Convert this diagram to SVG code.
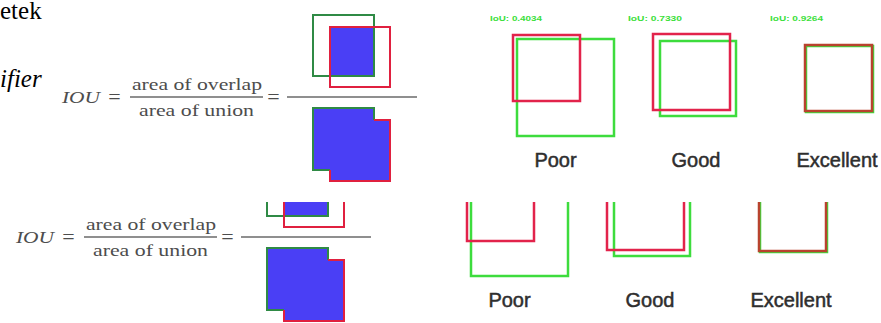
<svg xmlns="http://www.w3.org/2000/svg" width="881" height="323" viewBox="0 0 881 323">
<style>
.slide{font-family:"Liberation Serif","Times New Roman",serif;fill:#000;font-size:25px}
.math{font-family:"Liberation Serif","Times New Roman",serif;fill:#4d4d4d;font-size:17px}
.eq{font-family:"Liberation Serif","Times New Roman",serif;fill:#4d4d4d;font-size:22px;text-anchor:middle}
.mi{font-style:italic}
.fr{stroke:#6a6a6a;stroke-width:1.3}
.g1{fill:none;stroke:#2f8a45;stroke-width:2}
.r1{fill:none;stroke:#e0203f;stroke-width:2}
.blue{fill:#4a3ff5}
.gb{fill:none;stroke:#3ddc3d;stroke-width:2.5}
.rb{fill:none;stroke:#e2234b;stroke-width:2.5}
.eb{fill:none;stroke:#b8432e;stroke-width:2.5}
.lab{font-family:"Liberation Sans",Arial,sans-serif;font-size:20px;fill:#2e2e2e;stroke:#2e2e2e;stroke-width:0.5;text-anchor:middle}
.iou{font-family:"Liberation Sans",Arial,sans-serif;font-size:8px;fill:#3be03b;font-weight:bold}
</style>
<defs>
<clipPath id="cutL" clipPathUnits="userSpaceOnUse"><rect x="0" y="0" width="44" height="100"/></clipPath>
<clipPath id="cutB" clipPathUnits="userSpaceOnUse"><rect x="0" y="202" width="881" height="121"/></clipPath>
</defs>
<rect width="881" height="323" fill="#fff"/>

<g id="slide-text" clip-path="url(#cutL)">
<text class="slide" x="0" y="19">etek</text>
<text class="slide" x="0" y="87" font-style="italic">ifier</text>
</g>

<g id="formula-top">
<text class="math mi" x="62" y="103" textLength="38" lengthAdjust="spacingAndGlyphs">IOU</text>
<text class="eq" x="114.5" y="104">=</text>
<text class="math" x="132" y="90" textLength="130" lengthAdjust="spacingAndGlyphs">area of overlap</text>
<line class="fr" x1="130" y1="97" x2="263" y2="97"/>
<text class="math" x="139" y="116" textLength="115" lengthAdjust="spacingAndGlyphs">area of union</text>
<text class="eq" x="273.5" y="104">=</text>
<line class="fr" x1="287" y1="97" x2="417" y2="97"/>
<g id="overlap-top">
<rect class="blue" x="330" y="27" width="44" height="49"/>
<rect class="g1" x="313" y="15" width="61" height="61"/>
<rect class="r1" x="330" y="27" width="60" height="60"/>
</g>
<g id="union-top">
<polygon class="blue" points="313,108 374,108 374,120 390,120 390,181 330,181 330,170 313,170"/>
<polyline class="g1" points="330,170 313,170 313,108 374,108 374,120"/>
<polyline class="r1" points="374,120 390,120 390,181 330,181 330,170"/>
</g>
</g>

<g id="examples-top">
<text class="iou" x="490" y="21" textLength="52" lengthAdjust="spacingAndGlyphs">IoU: 0.4034</text>
<text class="iou" x="628" y="21" textLength="54" lengthAdjust="spacingAndGlyphs">IoU: 0.7330</text>
<text class="iou" x="770" y="21" textLength="53" lengthAdjust="spacingAndGlyphs">IoU: 0.9264</text>
<g id="poor-top">
<rect class="gb" x="517" y="39" width="97" height="97"/>
<rect class="rb" x="513" y="35" width="67" height="66"/>
<text class="lab" x="555.5" y="167">Poor</text>
</g>
<g id="good-top">
<rect class="gb" x="660" y="41" width="76" height="75"/>
<rect class="rb" x="653" y="34" width="77" height="76"/>
<text class="lab" x="696" y="167">Good</text>
</g>
<g id="excellent-top">
<rect class="gb" x="806" y="46" width="67" height="66"/>
<rect class="eb" x="805" y="45" width="67" height="66"/>
<text class="lab" x="837" y="167">Excellent</text>
</g>
</g>

<g id="bottom-copy" clip-path="url(#cutB)">
<g id="formula-bottom">
<text class="math mi" x="16" y="243" textLength="38" lengthAdjust="spacingAndGlyphs">IOU</text>
<text class="eq" x="68.5" y="244">=</text>
<text class="math" x="86" y="230" textLength="130" lengthAdjust="spacingAndGlyphs">area of overlap</text>
<line class="fr" x1="84" y1="237" x2="217" y2="237"/>
<text class="math" x="93" y="256" textLength="115" lengthAdjust="spacingAndGlyphs">area of union</text>
<text class="eq" x="227.5" y="244">=</text>
<line class="fr" x1="241" y1="237" x2="371" y2="237"/>
<g id="overlap-bottom">
<rect class="blue" x="284" y="167" width="44" height="49"/>
<rect class="g1" x="267" y="155" width="61" height="61"/>
<rect class="r1" x="284" y="167" width="60" height="60"/>
</g>
<g id="union-bottom">
<polygon class="blue" points="267,248 328,248 328,260 344,260 344,321 284,321 284,310 267,310"/>
<polyline class="g1" points="284,310 267,310 267,248 328,248 328,260"/>
<polyline class="r1" points="328,260 344,260 344,321 284,321 284,310"/>
</g>
</g>
<g id="examples-bottom">
<g id="poor-bottom">
<rect class="gb" x="471" y="179" width="97" height="97"/>
<rect class="rb" x="467" y="175" width="67" height="66"/>
<text class="lab" x="509.5" y="307">Poor</text>
</g>
<g id="good-bottom">
<rect class="gb" x="614" y="181" width="76" height="75"/>
<rect class="rb" x="607" y="174" width="77" height="76"/>
<text class="lab" x="650" y="307">Good</text>
</g>
<g id="excellent-bottom">
<rect class="gb" x="760" y="186" width="67" height="66"/>
<rect class="eb" x="759" y="185" width="67" height="66"/>
<text class="lab" x="791" y="307">Excellent</text>
</g>
</g>
</g>
</svg>
